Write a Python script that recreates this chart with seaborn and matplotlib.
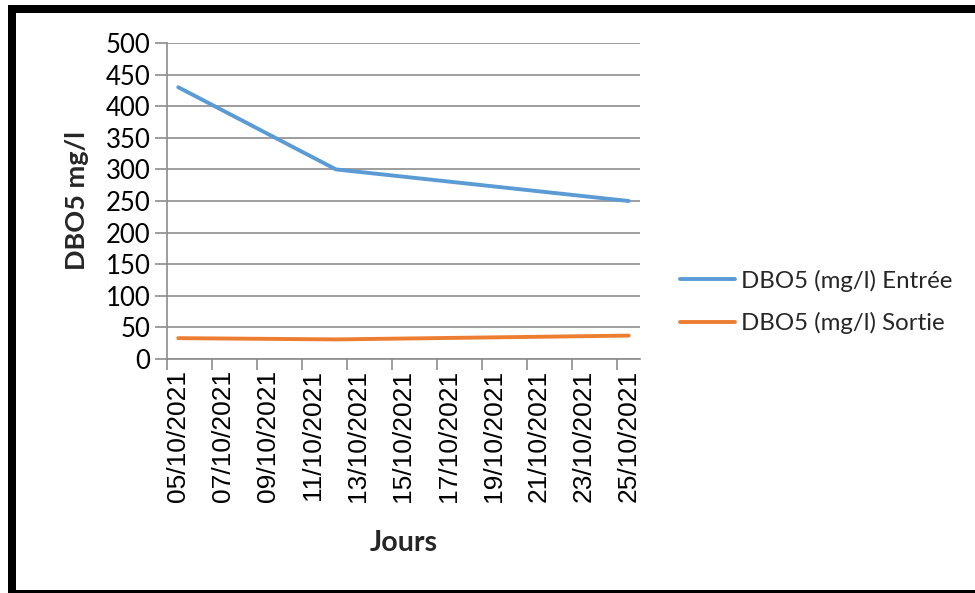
import matplotlib
matplotlib.use("Agg")
import matplotlib.pyplot as plt
import matplotlib.dates as mdates
from matplotlib.patches import Rectangle
from matplotlib.ticker import FixedLocator, NullFormatter
import numpy as np
import pandas as pd
import seaborn as sns

# Measurement days and BOD5 values (mg/l)
dates = ["2021-10-05", "2021-10-12", "2021-10-25"]
entree = [430, 300, 250]
sortie = [33, 31, 37]
series_names = ["DBO5 (mg/l) Entrée", "DBO5 (mg/l) Sortie"]
colors = ["#5B9BD5", "#ED7D31"]
y_ticks = [0, 50, 100, 150, 200, 250, 300, 350, 400, 450, 500]

df = pd.DataFrame({
    "Jours": list(pd.to_datetime(dates)) * 2,
    "DBO5": entree + sortie,
    "serie": [series_names[0]] * len(dates) + [series_names[1]] * len(dates),
})

sns.set_theme(style="white")
plt.rcParams["font.family"] = ["Lato", "DejaVu Sans"]

W, H = 975, 593
fig = plt.figure(figsize=(W / 100, H / 100), dpi=100)
fig.patch.set_facecolor("white")

left_px, right_px, top_px, bottom_px = 167, 640, 43, 359
ax = fig.add_axes([left_px / W, 1 - bottom_px / H,
                   (right_px - left_px) / W, (bottom_px - top_px) / H])

sns.lineplot(data=df, x="Jours", y="DBO5", hue="serie", palette=colors,
             linewidth=2.8, ax=ax, legend=True)

grey = "#8c8c8c"
one_day = pd.Timedelta(days=1)
start = pd.Timestamp("2021-10-05")
end = pd.Timestamp("2021-10-25")
ax.set_xlim(start - one_day / 2, end + one_day / 2)
ax.set_ylim(0, 500)
ax.set_yticks(y_ticks)

# date labels every two days, tick marks at the day boundaries
ax.xaxis.set_major_locator(mdates.DayLocator(bymonthday=range(5, 26, 2)))
ax.xaxis.set_major_formatter(mdates.DateFormatter("%d/%m/%Y"))
edges = [mdates.date2num(d) - 0.5 for d in pd.date_range(start, end, freq="2D")]
ax.xaxis.set_minor_locator(FixedLocator(edges))
ax.xaxis.set_minor_formatter(NullFormatter())
ax.tick_params(axis="x", which="major", length=0, pad=8, rotation=90,
               labelsize=19, labelcolor="black",
               labelfontfamily="Liberation Sans")
ax.tick_params(axis="x", which="minor", length=8, width=1.2, color=grey,
               direction="out", bottom=True)
ax.tick_params(axis="y", length=9, width=1.2, color=grey, direction="out",
               left=True, labelsize=18.5, labelcolor="black", pad=3)

ax.yaxis.grid(True, color=grey, linewidth=1.2)
ax.xaxis.grid(False)
for side in ["top", "right"]:
    ax.spines[side].set_visible(False)
for side in ["left", "bottom"]:
    ax.spines[side].set_color(grey)
    ax.spines[side].set_linewidth(1.2)

ax.set_ylabel("DBO5 mg/l", fontsize=19.5, fontweight="bold", labelpad=12)
ax.set_xlabel("Jours", fontsize=20.5, fontweight="bold", labelpad=20)

handles, labels = ax.get_legend_handles_labels()
ax.legend(handles, labels, loc="center left",
          bbox_to_anchor=(680 / W, 1 - 302 / H), bbox_transform=fig.transFigure,
          frameon=False, fontsize=17.3, handlelength=2.3, handletextpad=0.25,
          labelspacing=0.85, borderpad=0, borderaxespad=0)

# thick black frame around the chart
fig.add_artist(Rectangle((12 / W, -1 / H), 1.2, 585 / H,
                         transform=fig.transFigure, fill=False,
                         edgecolor="black", linewidth=8 * 0.72, clip_on=False))

fig.savefig("out.png", dpi=100, facecolor="white")
